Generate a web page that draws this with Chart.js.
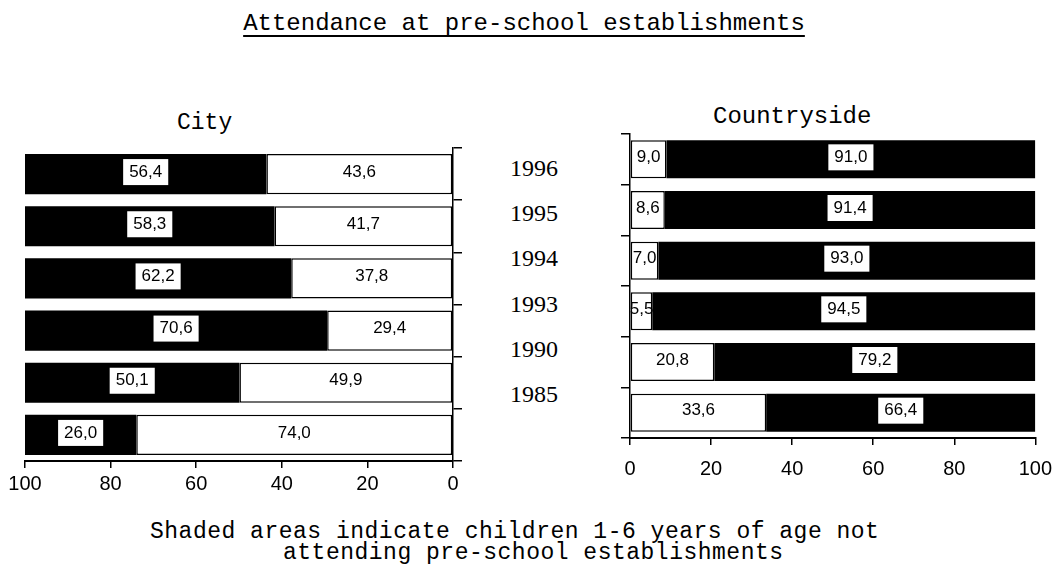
<!DOCTYPE html>
<html>
<head>
<meta charset="utf-8">
<script src="https://cdn.jsdelivr.net/npm/chart.js@4"></script>
<style>
  body { margin: 0; background: #fff; width: 1064px; height: 567px; position: relative; overflow: hidden; }
  .mono { position: absolute; font-family: "Liberation Mono", "DejaVu Sans Mono", monospace; font-size: 24px; color: #000; white-space: nowrap; line-height: 24px; }
  .caption { font-size: 23px; letter-spacing: 0.5px; line-height: 23px; }
  .year { position: absolute; font-family: "Liberation Serif", "DejaVu Serif", serif; font-size: 24px; line-height: 24px; width: 80px; text-align: center; color: #000; }
  canvas { position: absolute; }
</style>
</head>
<body>
<div class="mono" id="title" style="left:0; width:1048px; text-align:center; top:12px; text-decoration:underline; text-underline-offset:5px;">Attendance at pre-school establishments</div>
<div class="mono" style="left:177px; top:111px; font-size:23px;">City</div>
<div class="mono" style="left:713px; top:105px;">Countryside</div>
<div class="mono caption" style="left:150px; top:521px;">Shaded areas indicate children 1-6 years of age not</div>
<div class="mono caption" style="left:283px; top:542px;">attending pre-school establishments</div>
<div id="years"></div>

<canvas id="city" width="480" height="375" style="left:0; top:130px;"></canvas>
<canvas id="country" width="504" height="370" style="left:560px; top:120px;"></canvas>

<script>
const years = ['1996', '1995', '1994', '1993', '1990', '1985'];

// City: share attending (white) and not attending (shaded)
const cityAttending = [43.6, 41.7, 37.8, 29.4, 49.9, 74.0];
const cityNotAttending = [56.4, 58.3, 62.2, 70.6, 50.1, 26.0];

// Countryside
const countryAttending = [9.0, 8.6, 7.0, 5.5, 20.8, 33.6];
const countryNotAttending = [91.0, 91.4, 93.0, 94.5, 79.2, 66.4];

const xTicks = [0, 20, 40, 60, 80, 100];

// year labels between the two charts
const yearsBox = document.getElementById('years');
years.forEach((y, i) => {
  const d = document.createElement('div');
  d.className = 'year';
  d.textContent = y;
  d.style.left = '494px';
  d.style.top = (156 + i * 45.2) + 'px';
  yearsBox.appendChild(d);
});

const fmt = v => v.toFixed(1).replace('.', ',');

// draw the numbers on the segments, white box on the shaded ones
const valueLabels = {
  id: 'valueLabels',
  afterDatasetsDraw(chart) {
    const ctx = chart.ctx;
    ctx.save();
    ctx.font = '17px "Liberation Sans", Arial, sans-serif';
    ctx.textAlign = 'center';
    ctx.textBaseline = 'middle';
    chart.data.datasets.forEach((ds, di) => {
      const meta = chart.getDatasetMeta(di);
      meta.data.forEach((bar, i) => {
        const cx = (bar.x + bar.base) / 2;
        const cy = bar.y - 2;
        const txt = fmt(ds.data[i]);
        const w = ctx.measureText(txt).width;
        if (ds.shaded) {
          ctx.fillStyle = '#fff';
          ctx.fillRect(cx - w / 2 - 6, cy - 13, w + 12, 26);
        }
        ctx.fillStyle = '#000';
        ctx.fillText(txt, cx, cy);
      });
    });
    ctx.restore();
  }
};

function makeChart(id, attending, notAttending, opts) {
  return new Chart(document.getElementById(id), {
    type: 'bar',
    data: {
      labels: years,
      datasets: [
        {
          label: 'attending',
          data: attending,
          backgroundColor: '#fff',
          borderColor: '#000',
          borderWidth: 1.5,
          borderSkipped: false,
          barPercentage: opts.barPct,
          categoryPercentage: 1
        },
        {
          label: 'not attending',
          data: notAttending,
          shaded: true,
          backgroundColor: '#000',
          borderWidth: 0,
          barPercentage: opts.barPct,
          categoryPercentage: 1
        }
      ]
    },
    options: {
      indexAxis: 'y',
      responsive: false,
      devicePixelRatio: 1,
      animation: false,
      layout: { padding: opts.padding },
      plugins: { legend: { display: false }, tooltip: { enabled: false } },
      scales: {
        x: {
          stacked: true,
          reverse: opts.reverse,
          min: 0,
          max: 100,
          afterBuildTicks: s => { s.ticks = xTicks.map(v => ({ value: v })); },
          afterFit: s => { s.height = opts.xHeight; },
          grid: { drawOnChartArea: false, color: '#000', tickLength: 7, lineWidth: 1.5 },
          border: { display: true, color: '#000', width: 2 },
          ticks: {
            padding: opts.tickPad,
            color: '#000',
            font: { family: '"Liberation Sans", Arial, sans-serif', size: 20 }
          }
        },
        y: {
          stacked: true,
          position: opts.yPos,
          afterFit: s => { s.width = 10; },
          grid: { offset: true, drawOnChartArea: false, color: '#000', tickLength: 9, lineWidth: 1.5 },
          border: { display: true, color: '#000', width: 1.5 },
          ticks: { display: false }
        }
      }
    },
    plugins: [valueLabels]
  });
}

makeChart('city', cityAttending, cityNotAttending, {
  reverse: true,
  yPos: 'right',
  barPct: 0.77,
  padding: { top: 18, left: 25, right: 17, bottom: 0 },
  xHeight: 44,
  tickPad: 4
});

makeChart('country', countryAttending, countryNotAttending, {
  reverse: false,
  yPos: 'left',
  barPct: 0.75,
  padding: { top: 14, left: 60, right: 22, bottom: 0 },
  xHeight: 52,
  tickPad: 12
});
</script>
</body>
</html>
